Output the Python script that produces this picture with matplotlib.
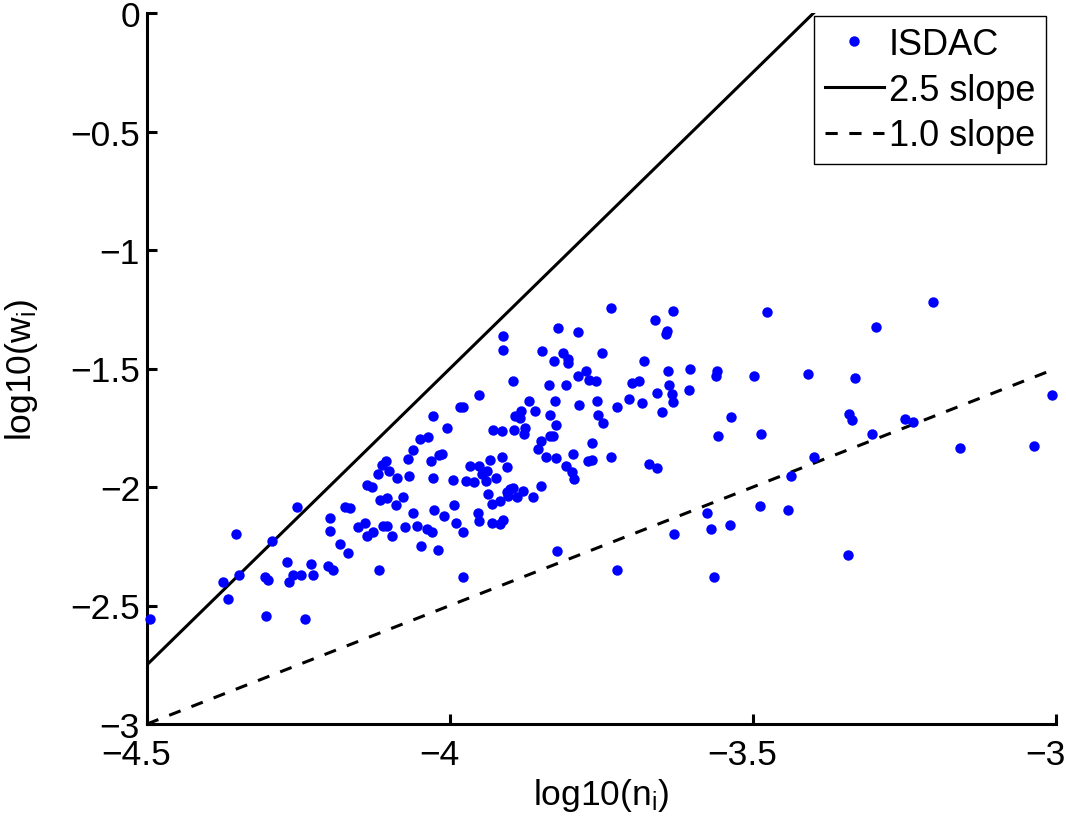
import matplotlib as mpl
mpl.use('Agg')
import matplotlib.pyplot as plt
import matplotlib.transforms as mtransforms

plt.rcParams['font.family'] = ['Liberation Sans', 'DejaVu Sans']
plt.rcParams['mathtext.fontset'] = 'custom'
plt.rcParams['mathtext.rm'] = 'Liberation Sans'
plt.rcParams['mathtext.it'] = 'Liberation Sans'

# ISDAC observations: log10(n_i) vs log10(w_i)
log_ni = [
    -4.495, -4.375, -4.366, -4.353, -4.348, -4.304, -4.305, -4.300, -4.294, -4.269,
    -4.266, -4.259, -4.246, -4.252, -4.239, -4.229, -4.226, -4.201, -4.193, -4.198,
    -4.198, -4.182, -3.952, -3.983, -3.979, -4.028, -4.005, -3.929, -3.914, -4.050,
    -4.036, -4.061, -4.069, -4.018, -4.031, -4.112, -4.106, -4.101, -4.119, -4.087,
    -4.068, -4.028, -3.995, -3.974, -3.960, -3.967, -3.952, -3.939, -3.934, -3.947,
    -3.924, -3.941, -3.914, -3.906, -4.137, -4.129, -4.116, -4.104, -4.078, -4.089,
    -4.173, -4.165, -3.937, -3.906, -3.931, -3.917, -3.993, -4.026, -4.061, -4.010,
    -3.954, -3.952, -4.152, -4.140, -4.111, -4.104, -4.074, -4.054, -4.038, -4.030,
    -3.990, -3.979, -3.931, -3.917, -3.913, -4.137, -4.127, -4.096, -4.168, -4.048,
    -4.020, -4.117, -3.979, -3.734, -3.822, -3.789, -3.913, -3.913, -3.848, -3.828,
    -3.814, -3.805, -3.805, -3.749, -3.896, -3.789, -3.776, -3.771, -3.759, -3.837,
    -3.809, -3.870, -3.827, -3.757, -3.787, -3.724, -3.883, -3.893, -3.884, -3.860,
    -3.835, -3.756, -3.748, -3.825, -3.894, -3.876, -3.878, -3.835, -3.830, -3.850,
    -3.855, -3.766, -4.013, -3.842, -3.825, -3.797, -3.809, -3.799, -3.795, -3.772,
    -3.766, -3.734, -3.901, -3.896, -3.904, -3.889, -3.880, -3.863, -3.850, -3.823,
    -3.724, -3.662, -3.632, -3.642, -3.644, -3.477, -3.680, -3.640, -3.604, -3.559,
    -3.561, -3.498, -3.700, -3.688, -3.639, -3.658, -3.634, -3.632, -3.606, -3.705,
    -3.683, -3.650, -3.536, -3.558, -3.487, -3.672, -3.658, -3.437, -3.576, -3.488,
    -3.442, -3.630, -3.569, -3.538, -3.564, -3.203, -3.297, -3.409, -3.332, -3.342,
    -3.337, -3.249, -3.236, -3.304, -3.007, -3.399, -3.158, -3.036, -3.343,
]
log_wi = [
    -2.557, -2.401, -2.473, -2.198, -2.371, -2.544, -2.380, -2.392, -2.228, -2.316,
    -2.401, -2.371, -2.371, -2.084, -2.557, -2.325, -2.371, -2.333, -2.350, -2.131,
    -2.186, -2.241, -1.612, -1.662, -1.662, -1.700, -1.751, -1.759, -1.764, -1.797,
    -1.789, -1.844, -1.882, -1.865, -1.890, -1.907, -1.890, -1.932, -1.945, -1.962,
    -1.954, -1.962, -1.970, -1.975, -1.979, -1.911, -1.911, -1.932, -1.886, -1.945,
    -1.962, -1.975, -1.873, -1.916, -1.992, -2.000, -2.055, -2.046, -2.042, -2.076,
    -2.084, -2.089, -2.030, -2.021, -2.072, -2.059, -2.076, -2.097, -2.110, -2.122,
    -2.110, -2.143, -2.169, -2.152, -2.165, -2.165, -2.169, -2.165, -2.177, -2.190,
    -2.152, -2.190, -2.152, -2.156, -2.139, -2.207, -2.190, -2.207, -2.278, -2.249,
    -2.266, -2.350, -2.380, -1.245, -1.329, -1.346, -1.363, -1.422, -1.426, -1.468,
    -1.435, -1.460, -1.477, -1.435, -1.553, -1.532, -1.511, -1.549, -1.553, -1.570,
    -1.570, -1.637, -1.637, -1.637, -1.654, -1.662, -1.679, -1.700, -1.709, -1.679,
    -1.696, -1.696, -1.730, -1.738, -1.759, -1.751, -1.776, -1.785, -1.785, -1.806,
    -1.840, -1.814, -1.861, -1.873, -1.878, -1.861, -1.911, -1.937, -1.966, -1.890,
    -1.886, -1.873, -2.008, -2.004, -2.038, -2.042, -2.017, -2.042, -1.996, -2.270,
    -2.350, -1.295, -1.257, -1.342, -1.354, -1.262, -1.468, -1.511, -1.502, -1.511,
    -1.532, -1.532, -1.561, -1.553, -1.570, -1.603, -1.608, -1.641, -1.591, -1.629,
    -1.646, -1.684, -1.705, -1.785, -1.776, -1.903, -1.920, -1.954, -2.110, -2.080,
    -2.097, -2.198, -2.177, -2.160, -2.380, -1.219, -1.325, -1.523, -1.540, -1.692,
    -1.717, -1.713, -1.726, -1.776, -1.612, -1.873, -1.835, -1.827, -2.287,
]

# reference slope lines
line_x = [-4.5, -3.0]
slope_25 = [2.5 * (x + 4.5) - 2.75 for x in line_x]
slope_10 = [1.0 * x + 1.5 for x in line_x]

xticks = [-4.5, -4.0, -3.5, -3.0]
xtick_labels = ['\u22124.5', '\u22124', '\u22123.5', '\u22123']
yticks = [0, -0.5, -1, -1.5, -2, -2.5, -3]
ytick_labels = ['0', '\u22120.5', '\u22121', '\u22121.5', '\u22122', '\u22122.5', '\u22123']

fig = plt.figure(figsize=(10.66, 8.2), dpi=100)
ax = fig.add_axes([147 / 1066, 1 - 725 / 820, 909 / 1066, 711 / 820])

ax.plot(log_ni, log_wi, 'o', color='#0000ff', markersize=7.5, markeredgewidth=0,
        label='ISDAC', clip_on=False, zorder=3)
ax.plot(line_x, slope_25, '-', color='black', lw=2.2, label='2.5 slope')
ax.plot(line_x, slope_10, '--', color='black', lw=2.2, dashes=(4, 3.8), label='1.0 slope')

ax.set_xlim(-4.5, -3.0)
ax.set_ylim(-3.0, 0.0)
ax.set_xticks(xticks)
ax.set_xticklabels(xtick_labels)
ax.set_yticks(yticks)
ax.set_yticklabels(ytick_labels)

for s in ['top', 'right']:
    ax.spines[s].set_visible(False)
for s in ['left', 'bottom']:
    ax.spines[s].set_linewidth(2.2)
ax.tick_params(direction='in', length=7, width=2.2, labelsize=25.5)
ax.tick_params(axis='x', pad=10)
ax.tick_params(axis='y', pad=5)

# MATLAB-style x tick labels sit a little left of their ticks
shift = mtransforms.ScaledTranslation(-11 / 100, 0, fig.dpi_scale_trans)
for lab in ax.get_xticklabels():
    lab.set_transform(lab.get_transform() + shift)

ax.set_xlabel(r'log10(n$_\mathregular{i}$)', fontsize=25.5, labelpad=4)
ax.set_ylabel(r'log10(w$_\mathregular{i}$)', fontsize=25.5, labelpad=22)

leg = ax.legend(loc='upper right', bbox_to_anchor=(0.989, 0.996), borderaxespad=0,
                fontsize=26, fancybox=False, framealpha=1, edgecolor='black',
                handlelength=1.63, handletextpad=0.14, labelspacing=0.3,
                borderpad=0.3, markerscale=1.0)
leg.get_frame().set_linewidth(1.0)

plt.savefig('out.png', dpi=100)
